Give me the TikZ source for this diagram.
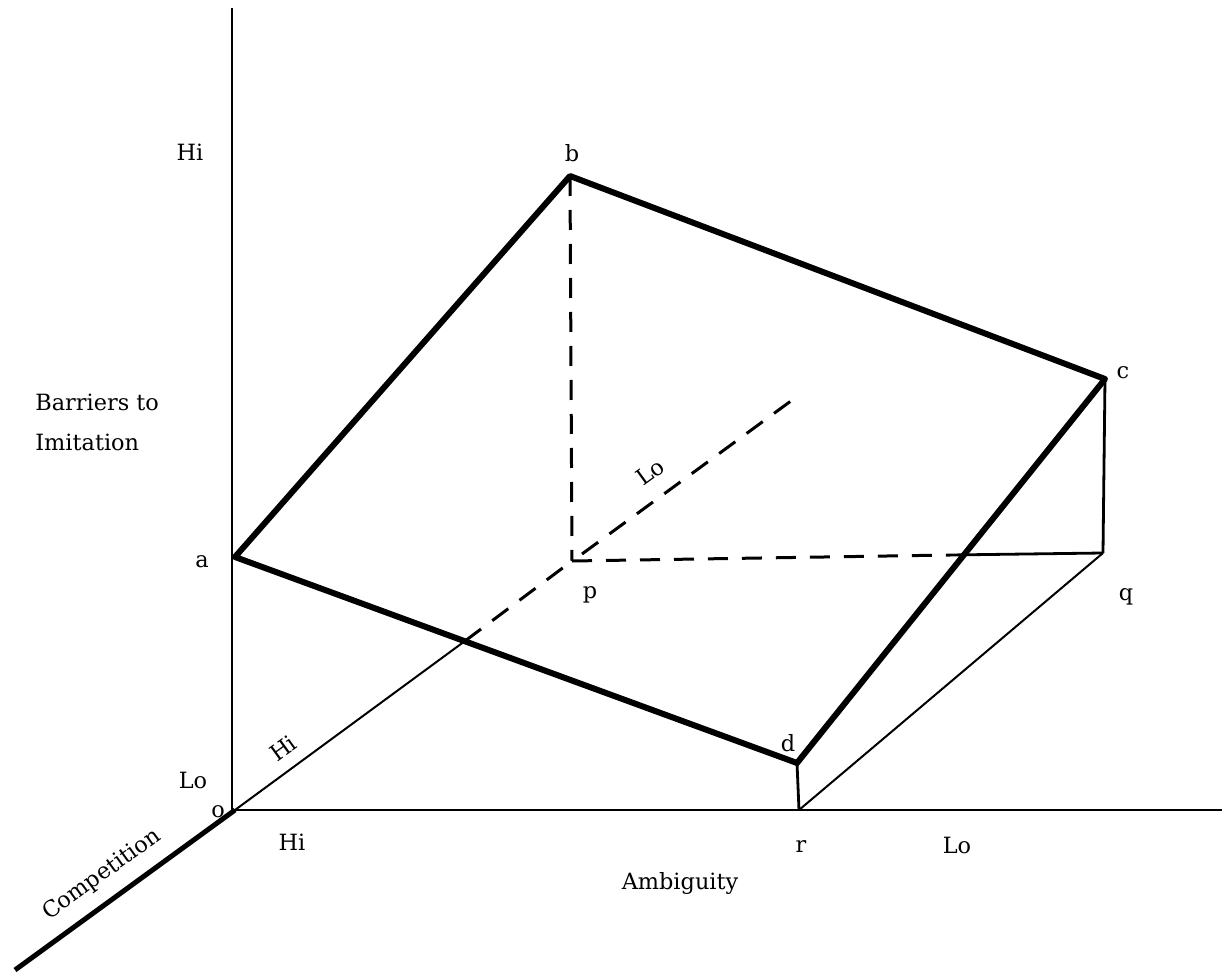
\documentclass[tikz,border=0pt]{standalone}
\usepackage{fontspec}
\setmainfont{DejaVu Serif}
\begin{document}
\begin{tikzpicture}[x=0.5pt,y=-0.5pt,
  thickedge/.style={line width=3pt,line cap=round,line join=round},
  thinline/.style={line width=1pt},
  medline/.style={line width=1.4pt},
  dashline/.style={line width=1.5pt,dash pattern=on 10pt off 7pt},
  lbl/.style={font=\fontsize{11.2}{13}\selectfont,inner sep=0pt}]
\useasboundingbox (0,0) rectangle (1222,973);
% points
\coordinate (o) at (235,810);
\coordinate (ytop) at (232,8);
\coordinate (ybot) at (232,810);
\coordinate (xend) at (1222,810);
\coordinate (zlow) at (15,970);
\coordinate (zhigh) at (795,398);
\coordinate (a) at (235,557);
\coordinate (b) at (570,176);
\coordinate (c) at (1105,379);
\coordinate (d) at (797,763);
\coordinate (p) at (572,561);
\coordinate (q) at (1103,553);
\coordinate (r) at (799,810);
\coordinate (zx) at (465,641);
\coordinate (pqx) at (950,555);
\coordinate (pz) at (582,554);
% axes
\draw[thinline] (ytop) -- (ybot);
\draw[thinline] (ybot) -- (xend);
\draw[line width=2.5pt] (zlow) -- (o);
\draw[thinline] (o) -- (zx);
\draw[dashline] (zx) -- (p);
\draw[dashline] (pz) -- (zhigh);
% hidden edges
\draw[dashline] (b) -- (p);
\draw[dashline] (p) -- (pqx);
\draw[medline] (pqx) -- (q);
\draw[medline] (c) -- (q);
\draw[thinline] (q) -- (r);
\draw[medline] (d) -- (r);
% surface
\draw[thickedge] (a) -- (b) -- (c) -- (d) -- cycle;
% labels
\node[lbl] (hitop) at (190,152) {Hi};
\node[lbl,anchor=west] (bar1) at (35,402) {Barriers to};
\node[lbl,anchor=west] (bar2) at (35,442) {Imitation};
\node[lbl] (la) at (202,562) {a};
\node[lbl] (lb) at (572,153) {b};
\node[lbl] (lc) at (1123,373) {c};
\node[lbl] (lp) at (590,595) {p};
\node[lbl] (lq) at (1126,597) {q};
\node[lbl] (ld) at (788,743) {d};
\node[lbl,rotate=36] (lozax) at (650,472) {Lo};
\node[lbl] (loy) at (193,780) {Lo};
\node[lbl] (lo) at (218,812) {o};
\node[lbl] (hix) at (292,842) {Hi};
\node[lbl,rotate=36] (hiz) at (283,748) {Hi};
\node[lbl,rotate=36] (comp) at (102,875) {Competition};
\node[lbl] (lr) at (801,847) {r};
\node[lbl] (lox) at (957,845) {Lo};
\node[lbl] (amb) at (680,883) {Ambiguity};
\end{tikzpicture}
\end{document}
